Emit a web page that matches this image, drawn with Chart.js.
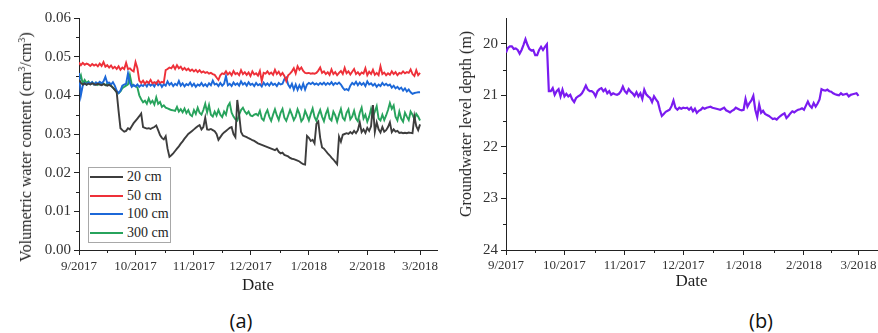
<!DOCTYPE html>
<html>
<head>
<meta charset="utf-8">
<script src="https://cdn.jsdelivr.net/npm/chart.js@4.4.1/dist/chart.umd.min.js"></script>
<style>
  html, body { margin: 0; padding: 0; background: #fff; }
  #wrap { position: relative; width: 878px; height: 333px; overflow: hidden;
          font-family: "Liberation Serif", "Times New Roman", serif; color: #1e1e1e; }
  canvas { position: absolute; top: 0; }
  #cA { left: 0; }
  #cB { left: 440px; }
  .ytitle { position: absolute; white-space: nowrap; font-size: 16px;
            transform: translate(-50%, -50%) rotate(-90deg); }
  .ytitle sup { font-size: 10px; vertical-align: 6px; line-height: 0; }
  .panel { position: absolute; font-family: "Open Sans", "Liberation Sans", sans-serif;
           font-size: 20px; transform: translate(-50%, -50%); color: #111; }
  #legend { position: absolute; left: 88px; top: 167px; width: 81px;
            border: 1px solid #a8a8a8; background: #fff; }
  .row { height: 18.5px; display: flex; align-items: center; font-size: 14px; color: #1e1e1e; }
  .swatch { width: 33px; height: 2px; margin-left: 1px; margin-right: 4px; }
</style>
</head>
<body>
<div id="wrap">
  <canvas id="cA" width="440" height="300"></canvas>
  <canvas id="cB" width="438" height="300"></canvas>
  <div class="ytitle" style="left:26px;top:147px;">Volumetric water content (cm<sup>3</sup>/cm<sup>3</sup>)</div>
  <div class="ytitle" style="left:466px;top:124px;">Groundwater level depth (m)</div>
  <div id="legend"></div>
  <div class="panel" style="left:241px;top:320px;">(a)</div>
  <div class="panel" style="left:761px;top:320px;">(b)</div>
</div>
<script>
// Daily readings from 1 Sep 2017 (day 0) to 1 Mar 2018 (day 181)
const monthStartDays = [0, 30, 61, 91, 122, 153, 181];
const monthLabels = ['9/2017', '10/2017', '11/2017', '12/2017', '1/2018', '2/2018', '3/2018'];
const vwcTicks = [0, 0.01, 0.02, 0.03, 0.04, 0.05, 0.06];
const depthTicks = [20, 21, 22, 23, 24];

// Volumetric water content (cm3/cm3) at 20 cm
const sm20 = [
  0.0440, 0.0432, 0.0428, 0.0431, 0.0427, 0.0430, 0.0428, 0.0431, 0.0429, 0.0427,
  0.0430, 0.0428, 0.0426, 0.0429, 0.0427, 0.0425, 0.0427, 0.0424, 0.0420, 0.0414,
  0.0408, 0.0360, 0.0315, 0.0310, 0.0306, 0.0308, 0.0315, 0.0312, 0.0320, 0.0328,
  0.0334, 0.0340, 0.0346, 0.0353, 0.0318, 0.0316, 0.0314, 0.0315, 0.0313, 0.0316,
  0.0318, 0.0322, 0.0310, 0.0297, 0.0290, 0.0286, 0.0294, 0.0262, 0.0241, 0.0245,
  0.0250, 0.0256, 0.0262, 0.0268, 0.0275, 0.0281, 0.0288, 0.0294, 0.0300, 0.0304,
  0.0308, 0.0312, 0.0316, 0.0320, 0.0323, 0.0312, 0.0318, 0.0342, 0.0312, 0.0311,
  0.0313, 0.0310, 0.0307, 0.0300, 0.0285, 0.0292, 0.0299, 0.0304, 0.0308, 0.0312,
  0.0316, 0.0318, 0.0300, 0.0292, 0.0388, 0.0350, 0.0305, 0.0296, 0.0294, 0.0292,
  0.0289, 0.0287, 0.0284, 0.0282, 0.0279, 0.0276, 0.0274, 0.0272, 0.0270, 0.0268,
  0.0266, 0.0264, 0.0262, 0.0260, 0.0258, 0.0262, 0.0254, 0.0250, 0.0252, 0.0246,
  0.0244, 0.0242, 0.0238, 0.0236, 0.0235, 0.0233, 0.0231, 0.0229, 0.0225, 0.0222,
  0.0221, 0.0295, 0.0290, 0.0282, 0.0285, 0.0276, 0.0326, 0.0332, 0.0290, 0.0265,
  0.0262, 0.0256, 0.0250, 0.0245, 0.0239, 0.0234, 0.0228, 0.0222, 0.0293, 0.0280,
  0.0298, 0.0300, 0.0302, 0.0300, 0.0305, 0.0301, 0.0308, 0.0302, 0.0310, 0.0330,
  0.0305, 0.0312, 0.0303, 0.0316, 0.0308, 0.0320, 0.0375, 0.0305, 0.0330, 0.0312,
  0.0304, 0.0318, 0.0306, 0.0310, 0.0318, 0.0330, 0.0305, 0.0312, 0.0306, 0.0308,
  0.0303, 0.0304, 0.0302, 0.0303, 0.0302, 0.0304, 0.0303, 0.0302, 0.0345, 0.0320, 0.0310, 0.0325
];

// at 50 cm
const sm50 = [
  0.0485, 0.0478, 0.0484, 0.0479, 0.0482, 0.0480, 0.0476, 0.0481, 0.0477, 0.0480,
  0.0475, 0.0482, 0.0476, 0.0486, 0.0474, 0.0478, 0.0472, 0.0477, 0.0470, 0.0474,
  0.0468, 0.0475, 0.0466, 0.0472, 0.0468, 0.0484, 0.0468, 0.0470, 0.0465, 0.0462,
  0.0486, 0.0470, 0.0438, 0.0432, 0.0438, 0.0430, 0.0436, 0.0432, 0.0440, 0.0431,
  0.0434, 0.0430, 0.0438, 0.0432, 0.0435, 0.0433, 0.0465, 0.0468, 0.0472, 0.0470,
  0.0477, 0.0468, 0.0478, 0.0470, 0.0474, 0.0466, 0.0471, 0.0465, 0.0469, 0.0463,
  0.0467, 0.0462, 0.0466, 0.0460, 0.0465, 0.0459, 0.0462, 0.0458, 0.0460, 0.0456,
  0.0458, 0.0455, 0.0453, 0.0446, 0.0440, 0.0452, 0.0457, 0.0455, 0.0462, 0.0454,
  0.0459, 0.0452, 0.0463, 0.0455, 0.0458, 0.0452, 0.0465, 0.0455, 0.0460, 0.0453,
  0.0459, 0.0450, 0.0462, 0.0454, 0.0457, 0.0451, 0.0463, 0.0437, 0.0458, 0.0456,
  0.0462, 0.0455, 0.0459, 0.0453, 0.0466, 0.0455, 0.0461, 0.0452, 0.0458, 0.0450,
  0.0437, 0.0452, 0.0456, 0.0462, 0.0470, 0.0457, 0.0475, 0.0466, 0.0472, 0.0463,
  0.0458, 0.0457, 0.0458, 0.0456, 0.0457, 0.0456, 0.0458, 0.0464, 0.0472, 0.0458,
  0.0462, 0.0455, 0.0460, 0.0453, 0.0467, 0.0455, 0.0460, 0.0452, 0.0458, 0.0463,
  0.0455, 0.0471, 0.0457, 0.0462, 0.0454, 0.0461, 0.0468, 0.0455, 0.0460, 0.0453,
  0.0459, 0.0456, 0.0470, 0.0452, 0.0461, 0.0455, 0.0466, 0.0453, 0.0458, 0.0452,
  0.0475, 0.0455, 0.0459, 0.0452, 0.0457, 0.0453, 0.0462, 0.0455, 0.0460, 0.0452,
  0.0458, 0.0456, 0.0462, 0.0457, 0.0460, 0.0458, 0.0467, 0.0455, 0.0450, 0.0465, 0.0452, 0.0458
];

// at 100 cm
const sm100 = [
  0.0458, 0.0400, 0.0425, 0.0432, 0.0428, 0.0433, 0.0430, 0.0434, 0.0428, 0.0433,
  0.0430, 0.0435, 0.0431, 0.0436, 0.0448, 0.0432, 0.0433, 0.0428, 0.0434, 0.0425,
  0.0412, 0.0406, 0.0412, 0.0425, 0.0428, 0.0430, 0.0457, 0.0432, 0.0422, 0.0427,
  0.0423, 0.0428, 0.0422, 0.0427, 0.0424, 0.0430, 0.0423, 0.0431, 0.0425, 0.0429,
  0.0423, 0.0433, 0.0426, 0.0431, 0.0422, 0.0429, 0.0425, 0.0436, 0.0427, 0.0432,
  0.0424, 0.0430, 0.0426, 0.0437, 0.0425, 0.0431, 0.0423, 0.0429, 0.0426, 0.0433,
  0.0424, 0.0430, 0.0422, 0.0428, 0.0425, 0.0432, 0.0424, 0.0429, 0.0423, 0.0431,
  0.0426, 0.0438, 0.0428, 0.0430, 0.0424, 0.0432, 0.0425, 0.0430, 0.0450, 0.0426,
  0.0430, 0.0424, 0.0433, 0.0427, 0.0431, 0.0425, 0.0436, 0.0428, 0.0432, 0.0425,
  0.0434, 0.0427, 0.0430, 0.0424, 0.0432, 0.0426, 0.0429, 0.0423, 0.0433, 0.0426,
  0.0431, 0.0425, 0.0433, 0.0427, 0.0430, 0.0424, 0.0432, 0.0428, 0.0430, 0.0442,
  0.0446, 0.0428, 0.0420, 0.0430, 0.0415, 0.0428, 0.0414, 0.0426, 0.0416, 0.0430,
  0.0415, 0.0428, 0.0432, 0.0429, 0.0433, 0.0428, 0.0431, 0.0427, 0.0432, 0.0428,
  0.0433, 0.0427, 0.0432, 0.0428, 0.0434, 0.0427, 0.0432, 0.0429, 0.0433, 0.0428,
  0.0420, 0.0414, 0.0416, 0.0413, 0.0425, 0.0432, 0.0428, 0.0435, 0.0426, 0.0433,
  0.0427, 0.0432, 0.0424, 0.0436, 0.0428, 0.0431, 0.0425, 0.0430, 0.0422, 0.0428,
  0.0424, 0.0432, 0.0426, 0.0430, 0.0425, 0.0428, 0.0420, 0.0425, 0.0418, 0.0422,
  0.0416, 0.0420, 0.0412, 0.0418, 0.0410, 0.0415, 0.0408, 0.0404, 0.0406, 0.0407, 0.0408, 0.0408
];

// at 300 cm
const sm300 = [
  0.0440, 0.0452, 0.0430, 0.0440, 0.0432, 0.0436, 0.0429, 0.0434, 0.0428, 0.0433,
  0.0427, 0.0432, 0.0428, 0.0431, 0.0426, 0.0430, 0.0427, 0.0425, 0.0420, 0.0415,
  0.0408, 0.0405, 0.0410, 0.0418, 0.0422, 0.0425, 0.0428, 0.0452, 0.0428, 0.0425,
  0.0424, 0.0420, 0.0400, 0.0390, 0.0382, 0.0386, 0.0378, 0.0392, 0.0380, 0.0386,
  0.0376, 0.0395, 0.0378, 0.0383, 0.0370, 0.0374, 0.0368, 0.0366, 0.0364, 0.0362,
  0.0361, 0.0360, 0.0370, 0.0358, 0.0364, 0.0356, 0.0366, 0.0354, 0.0362, 0.0350,
  0.0346, 0.0362, 0.0352, 0.0368, 0.0355, 0.0350, 0.0362, 0.0378, 0.0356, 0.0375,
  0.0350, 0.0345, 0.0358, 0.0348, 0.0362, 0.0350, 0.0344, 0.0358, 0.0350, 0.0372,
  0.0380, 0.0355, 0.0345, 0.0338, 0.0335, 0.0350, 0.0362, 0.0368, 0.0358, 0.0352,
  0.0358, 0.0348, 0.0346, 0.0350, 0.0352, 0.0348, 0.0360, 0.0340, 0.0335, 0.0352,
  0.0362, 0.0345, 0.0334, 0.0350, 0.0364, 0.0348, 0.0336, 0.0355, 0.0365, 0.0342,
  0.0334, 0.0348, 0.0362, 0.0350, 0.0336, 0.0345, 0.0364, 0.0352, 0.0333, 0.0340,
  0.0360, 0.0348, 0.0335, 0.0352, 0.0366, 0.0344, 0.0334, 0.0350, 0.0362, 0.0345,
  0.0333, 0.0352, 0.0364, 0.0340, 0.0335, 0.0358, 0.0348, 0.0332, 0.0350, 0.0365,
  0.0342, 0.0336, 0.0355, 0.0364, 0.0338, 0.0345, 0.0360, 0.0340, 0.0333, 0.0355,
  0.0368, 0.0340, 0.0350, 0.0332, 0.0345, 0.0365, 0.0345, 0.0358, 0.0372, 0.0340,
  0.0335, 0.0350, 0.0336, 0.0348, 0.0362, 0.0380, 0.0365, 0.0374, 0.0345, 0.0335,
  0.0358, 0.0340, 0.0332, 0.0355, 0.0345, 0.0336, 0.0358, 0.0350, 0.0338, 0.0352, 0.0345, 0.0335
];

// Groundwater level depth (m)
const gwDepth = [
  20.17, 20.08, 20.05, 20.05, 20.10, 20.09, 20.12, 20.19, 20.12, 20.02,
  19.91, 20.02, 20.10, 20.13, 20.12, 20.22, 20.22, 20.12, 20.06, 20.12,
  20.06, 20.01, 20.92, 20.92, 20.86, 20.99, 20.92, 20.88, 21.02, 20.89,
  21.02, 20.97, 21.02, 20.99, 21.08, 21.13, 21.05, 21.02, 21.00, 20.96,
  20.89, 20.81, 20.89, 20.92, 20.92, 20.95, 21.02, 20.92, 20.88, 20.86,
  20.92, 20.88, 20.96, 20.92, 20.99, 20.96, 20.98, 20.99, 20.97, 20.92,
  20.83, 20.92, 20.96, 20.88, 20.93, 20.96, 21.01, 20.94, 21.02, 20.96,
  21.07, 20.89, 20.98, 21.02, 21.05, 21.13, 21.02, 21.08, 21.13, 21.28,
  21.40, 21.36, 21.32, 21.30, 21.28, 21.21, 21.10, 21.24, 21.28, 21.24,
  21.26, 21.24, 21.25, 21.24, 21.28, 21.24, 21.31, 21.26, 21.34, 21.30,
  21.28, 21.24, 21.26, 21.24, 21.23, 21.22, 21.24, 21.25, 21.26, 21.27,
  21.28, 21.26, 21.24, 21.29, 21.31, 21.33, 21.30, 21.28, 21.24, 21.26,
  21.28, 21.29, 21.28, 21.07, 21.22, 21.15, 21.10, 21.01, 21.28, 21.42,
  21.18, 21.34, 21.30, 21.36, 21.38, 21.40, 21.43, 21.46, 21.45, 21.47,
  21.43, 21.40, 21.37, 21.35, 21.44, 21.40, 21.35, 21.31, 21.33, 21.30,
  21.28, 21.27, 21.25, 21.28, 21.20, 21.12, 21.20, 21.24, 21.15, 21.22,
  21.16, 21.08, 20.88, 20.90, 20.91, 20.89, 20.92, 20.93, 20.96, 20.98,
  20.99, 21.00, 20.96, 20.99, 20.98, 20.97, 21.02, 20.99, 20.98, 20.97, 20.96, 21.01
];

const SERIF = '"Liberation Serif", "Times New Roman", serif';
const AXIS = '#222';

const toPoints = vals => vals.map((v, i) => ({ x: i, y: v }));

// Small outward ticks halfway between the labelled ones
const minorTicks = {
  id: 'minorTicks',
  afterDraw(chart) {
    const { ctx } = chart;
    const { x, y } = chart.scales;
    const mids = ticks => ticks.slice(1).map((t, i) => (ticks[i].value + t.value) / 2);
    ctx.save();
    ctx.strokeStyle = AXIS;
    ctx.lineWidth = 1;
    mids(x.ticks).forEach(v => {
      const px = Math.round(x.getPixelForValue(v)) + 0.5;
      ctx.beginPath(); ctx.moveTo(px, x.top); ctx.lineTo(px, x.top + 3); ctx.stroke();
    });
    mids(y.ticks).forEach(v => {
      const py = Math.round(y.getPixelForValue(v)) + 0.5;
      ctx.beginPath(); ctx.moveTo(y.right, py); ctx.lineTo(y.right - 3, py); ctx.stroke();
    });
    ctx.restore();
  }
};

const gridOpts = {
  display: true, drawOnChartArea: false, drawTicks: true,
  tickLength: 5, tickColor: AXIS, tickWidth: 1
};
const borderOpts = { display: true, color: AXIS, width: 1 };

function dateAxis(maxDay, labelPad, titlePad) {
  return {
    type: 'linear', min: 0, max: maxDay,
    afterBuildTicks: s => { s.ticks = monthStartDays.map(v => ({ value: v })); },
    ticks: {
      callback: (v, i) => monthLabels[i],
      font: { family: SERIF, size: 13 }, color: '#333',
      padding: labelPad, maxRotation: 0, autoSkip: false
    },
    grid: gridOpts,
    border: borderOpts,
    title: {
      display: true, text: 'Date', color: '#1e1e1e',
      font: { family: SERIF, size: 17 }, padding: { top: 0, bottom: titlePad }
    },
    afterFit: s => { s.height = 50; s.paddingLeft = 0; s.paddingRight = 0; }
  };
}

const chartA = new Chart(document.getElementById('cA'), {
  type: 'line',
  data: {
    datasets: [
      { label: '20 cm', data: toPoints(sm20), borderColor: '#3d3d3d' },
      { label: '50 cm', data: toPoints(sm50), borderColor: '#ee3039' },
      { label: '100 cm', data: toPoints(sm100), borderColor: '#1c68d8' },
      { label: '300 cm', data: toPoints(sm300), borderColor: '#27a35c' }
    ].map(d => Object.assign(d, { borderWidth: 1.9, pointRadius: 0, tension: 0, fill: false }))
  },
  options: {
    responsive: false, animation: false, devicePixelRatio: 1,
    layout: { padding: { top: 18, right: 3, left: 0, bottom: 0 } },
    plugins: { legend: { display: false }, tooltip: { enabled: false } },
    scales: {
      x: dateAxis(190, 4, 4),
      y: {
        type: 'linear', min: 0, max: 0.06,
        afterBuildTicks: s => { s.ticks = vwcTicks.map(v => ({ value: v })); },
        ticks: { callback: v => v.toFixed(2), font: { family: SERIF, size: 15 }, color: '#333', padding: 3 },
        grid: gridOpts,
        border: borderOpts,
        afterFit: s => { s.width = 79; }
      }
    }
  },
  plugins: [minorTicks]
});

new Chart(document.getElementById('cB'), {
  type: 'line',
  data: {
    datasets: [
      { label: 'Groundwater level depth', data: toPoints(gwDepth), borderColor: '#7a1bf0',
        borderWidth: 2.2, pointRadius: 0, tension: 0, fill: false }
    ]
  },
  options: {
    responsive: false, animation: false, devicePixelRatio: 1,
    layout: { padding: { top: 18, right: 1, left: 0, bottom: 0 } },
    plugins: { legend: { display: false }, tooltip: { enabled: false } },
    scales: {
      x: dateAxis(190.5, 3, 8),
      y: {
        type: 'linear', min: 19.5, max: 24, reverse: true,
        afterBuildTicks: s => { s.ticks = depthTicks.map(v => ({ value: v })); },
        ticks: { font: { family: SERIF, size: 15 }, color: '#333', padding: 3 },
        grid: gridOpts,
        border: borderOpts,
        afterFit: s => { s.width = 66; }
      }
    }
  },
  plugins: [minorTicks]
});

// Framed legend for the soil-moisture panel
const legendEl = document.getElementById('legend');
chartA.data.datasets.forEach(ds => {
  const row = document.createElement('div');
  row.className = 'row';
  const sw = document.createElement('span');
  sw.className = 'swatch';
  sw.style.background = ds.borderColor;
  const txt = document.createElement('span');
  txt.textContent = ds.label;
  row.appendChild(sw);
  row.appendChild(txt);
  legendEl.appendChild(row);
});
</script>
</body>
</html>
